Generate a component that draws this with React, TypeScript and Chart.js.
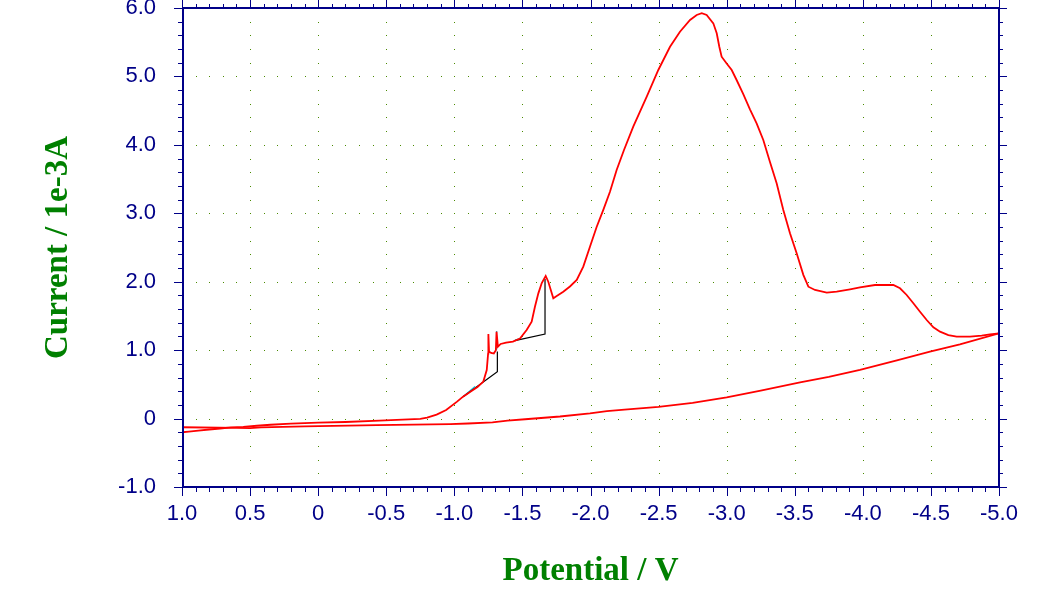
import React, { useEffect, useRef } from 'react';
import { Chart, registerables } from 'chart.js';

Chart.register(...registerables);

// ---- data (Potential in V, Current in 1e-3 A) ----
const forwardPotential = [
  1.0, 0.95, 0.88, 0.8, 0.72, 0.64, 0.55, 0.45, 0.35, 0.2, 0.0, -0.2, -0.45, -0.62, -0.75,
  -0.8, -0.87, -0.94, -1.02, -1.064, -1.115, -1.17, -1.213, -1.238, -1.248, -1.25, -1.255,
  -1.27, -1.29, -1.305, -1.31, -1.32, -1.34, -1.38, -1.43, -1.482, -1.531, -1.568, -1.592,
  -1.617, -1.642, -1.671, -1.69, -1.727, -1.752, -1.8, -1.849, -1.899, -1.947, -1.996,
  -2.045, -2.094, -2.143, -2.192, -2.246, -2.314, -2.413, -2.498, -2.584, -2.657, -2.731,
  -2.78, -2.817, -2.853, -2.902, -2.927, -2.946, -2.963, -3.0, -3.037, -3.073, -3.122,
  -3.171, -3.22, -3.269, -3.318, -3.367, -3.416, -3.465, -3.514, -3.563, -3.6, -3.649,
  -3.735, -3.808, -3.906, -3.979, -4.089, -4.224, -4.273, -4.322, -4.371, -4.42, -4.469,
  -4.518, -4.567, -4.628, -4.689, -4.787, -4.873, -4.934, -5.0,
];
const forwardCurrent = [
  -0.2, -0.19, -0.175, -0.16, -0.145, -0.128, -0.12, -0.105, -0.09, -0.075, -0.06, -0.05,
  -0.03, -0.015, -0.005, 0.013, 0.057, 0.125, 0.247, 0.32, 0.39, 0.46, 0.54, 0.71, 0.95,
  1.236, 0.98, 0.96, 0.95, 1.0, 1.27, 1.05, 1.09, 1.11, 1.124, 1.17, 1.295, 1.416, 1.635,
  1.83, 1.98, 2.084, 2.0, 1.758, 1.79, 1.854, 1.93, 2.025, 2.22, 2.51, 2.8, 3.05, 3.315,
  3.633, 3.925, 4.265, 4.704, 5.094, 5.434, 5.654, 5.825, 5.898, 5.923, 5.898, 5.776, 5.63,
  5.434, 5.288, 5.19, 5.094, 4.948, 4.74, 4.52, 4.315, 4.071, 3.75, 3.438, 3.048, 2.707,
  2.415, 2.1, 1.927, 1.879, 1.84, 1.854, 1.889, 1.918, 1.952, 1.952, 1.904, 1.806, 1.685,
  1.562, 1.44, 1.334, 1.27, 1.221, 1.197, 1.197, 1.211, 1.232, 1.246,
];
const reversePotential = [
  -5.0, -4.713, -4.493, -4.25, -3.979, -3.75, -3.539, -3.25, -3.0, -2.75, -2.5, -2.25,
  -2.12, -1.996, -1.776, -1.52, -1.39, -1.28, -1.1, -0.97, -0.43, 0.1, 0.42, 0.5, 0.6, 1.0,
];
const reverseCurrent = [
  1.246, 1.085, 0.977, 0.85, 0.71, 0.61, 0.53, 0.41, 0.31, 0.23, 0.17, 0.13, 0.11, 0.077,
  0.03, -0.01, -0.03, -0.055, -0.072, -0.08, -0.097, -0.113, -0.128, -0.14, -0.135, -0.127,
];
const baseline1Potential = [-1.064, -1.316, -1.316];
const baseline1Current = [0.32, 0.685, 0.98];
const baseline2Potential = [-1.445, -1.666, -1.666];
const baseline2Current = [1.138, 1.236, 2.04];
const markA_Potential = [-1.066, -1.152];
const markA_Current = [0.324, 0.47];
const markB_Potential = [-1.31, -1.31];
const markB_Current = [1.0, 1.28];
const markC_Potential = [-1.445, -1.482];
const markC_Current = [1.148, 1.17];

const xMin = -5.0;
const xMax = 1.0;
const yMin = -1.0;
const yMax = 6.0;
const xStep = 0.5;
const yStep = 1.0;

const NAVY = '#000088';
const GREEN = '#008000';
const DOT = '#4a8a00';

const zip = (xs: number[], ys: number[]) => xs.map((x, i) => ({ x, y: ys[i] }));
const fmt = (v: number) => (Math.abs(v) < 1e-9 ? '0' : v.toFixed(1));

const framePlugin = {
  id: 'frame',
  beforeDatasetsDraw(chart: any) {
    const { ctx, scales } = chart;
    const x = scales.x;
    const y = scales.y;
    ctx.save();
    ctx.fillStyle = DOT;
    for (let i = -45; i <= 5; i += 5) {
      const px = Math.round(x.getPixelForValue(i / 10));
      for (let k = 1; k < 35; k++) {
        if (k % 5 === 0) continue;
        const py = Math.round(y.getPixelForValue(-1 + 0.2 * k));
        ctx.fillRect(px, py, 1, 1);
      }
    }
    for (let j = 0; j <= 5; j++) {
      const py = Math.round(y.getPixelForValue(j));
      for (let i = -49; i <= 9; i++) {
        const px = Math.round(x.getPixelForValue(i / 10));
        ctx.fillRect(px, py, 1, 1);
      }
    }
    ctx.restore();
  },
  afterDraw(chart: any) {
    const { ctx, chartArea: a, scales } = chart;
    const x = scales.x;
    const y = scales.y;
    ctx.save();
    ctx.fillStyle = NAVY;
    ctx.fillRect(a.left, a.top - 1, a.right - a.left + 1, 2);
    ctx.fillRect(a.left, a.bottom - 1, a.right - a.left + 1, 2);
    ctx.fillRect(a.left, a.top - 1, 2, a.bottom - a.top + 1);
    ctx.fillRect(a.right - 1, a.top - 1, 2, a.bottom - a.top + 1);
    for (let i = -50; i <= 10; i++) {
      const px = Math.round(x.getPixelForValue(i / 10));
      const major = i % 5 === 0;
      ctx.fillRect(px, a.bottom, 1, major ? 9 : 5);
      ctx.fillRect(px, a.top - (major ? 8 : 4), 1, major ? 8 : 4);
    }
    for (let k = 0; k <= 35; k++) {
      const py = Math.round(y.getPixelForValue(-1 + 0.2 * k));
      const major = k % 5 === 0;
      ctx.fillRect(a.left - (major ? 8 : 4), py, major ? 8 : 4, 1);
      ctx.fillRect(a.right, py, major ? 8 : 4, 1);
    }
    ctx.restore();
  },
};

export default function App() {
  const canvasRef = useRef<HTMLCanvasElement | null>(null);

  useEffect(() => {
    if (!canvasRef.current) return;
    const lineDs = (label: string, data: any[], color: string, width: number) => ({
      label,
      data,
      borderColor: color,
      backgroundColor: color,
      borderWidth: width,
      showLine: true,
      pointRadius: 0,
      tension: 0,
      fill: false,
    });
    const chart = new Chart(canvasRef.current, {
      type: 'scatter',
      data: {
        datasets: [
          lineDs('forward', zip(forwardPotential, forwardCurrent), '#ff0000', 1.8),
          lineDs('reverse', zip(reversePotential, reverseCurrent), '#ff0000', 1.8),
          lineDs('baseline1', zip(baseline1Potential, baseline1Current), '#000000', 1.2),
          lineDs('baseline2', zip(baseline2Potential, baseline2Current), '#000000', 1.2),
          lineDs('markA', zip(markA_Potential, markA_Current), '#00c8e0', 1.2),
          lineDs('markB', zip(markB_Potential, markB_Current), '#00c8e0', 1.2),
          lineDs('markC', zip(markC_Potential, markC_Current), '#00c8e0', 1.2),
        ],
      },
      options: {
        animation: false,
        responsive: true,
        maintainAspectRatio: false,
        layout: { padding: { top: 8, right: 38, left: 0, bottom: 0 } },
        plugins: { legend: { display: false }, tooltip: { enabled: false } },
        scales: {
          x: {
            type: 'linear',
            min: xMin,
            max: xMax,
            reverse: true,
            grid: { display: false },
            border: { display: false },
            ticks: {
              stepSize: xStep,
              callback: (v: any) => fmt(Number(v)),
              color: NAVY,
              padding: 6,
              maxRotation: 0,
              autoSkip: false,
              font: { family: "'Liberation Sans', Arial, sans-serif", size: 22 },
            },
            title: {
              display: true,
              text: 'Potential / V',
              color: GREEN,
              padding: { top: 0, bottom: 8 },
              font: { family: "'Liberation Serif', 'Times New Roman', serif", size: 33, weight: 'bold' },
            },
            afterFit: (s: any) => {
              s.height = 112;
              s.paddingLeft = 0;
              s.paddingRight = 0;
            },
          },
          y: {
            type: 'linear',
            min: yMin,
            max: yMax,
            grid: { display: false },
            border: { display: false },
            ticks: {
              stepSize: yStep,
              callback: (v: any) => fmt(Number(v)),
              color: NAVY,
              padding: 18,
              font: { family: "'Liberation Sans', Arial, sans-serif", size: 22 },
            },
            title: {
              display: true,
              text: 'Current / 1e-3A',
              color: GREEN,
              padding: { top: 39, bottom: 0 },
              font: { family: "'Liberation Serif', 'Times New Roman', serif", size: 33, weight: 'bold' },
            },
            afterFit: (s: any) => {
              s.width = 182;
              s.paddingTop = 0;
              s.paddingBottom = 0;
            },
          },
        },
      },
      plugins: [framePlugin],
    } as any);
    return () => chart.destroy();
  }, []);

  return (
    <div style={{ position: 'fixed', left: 0, top: 0, width: 1037, height: 599, background: '#fff' }}>
      <canvas ref={canvasRef} />
    </div>
  );
}
